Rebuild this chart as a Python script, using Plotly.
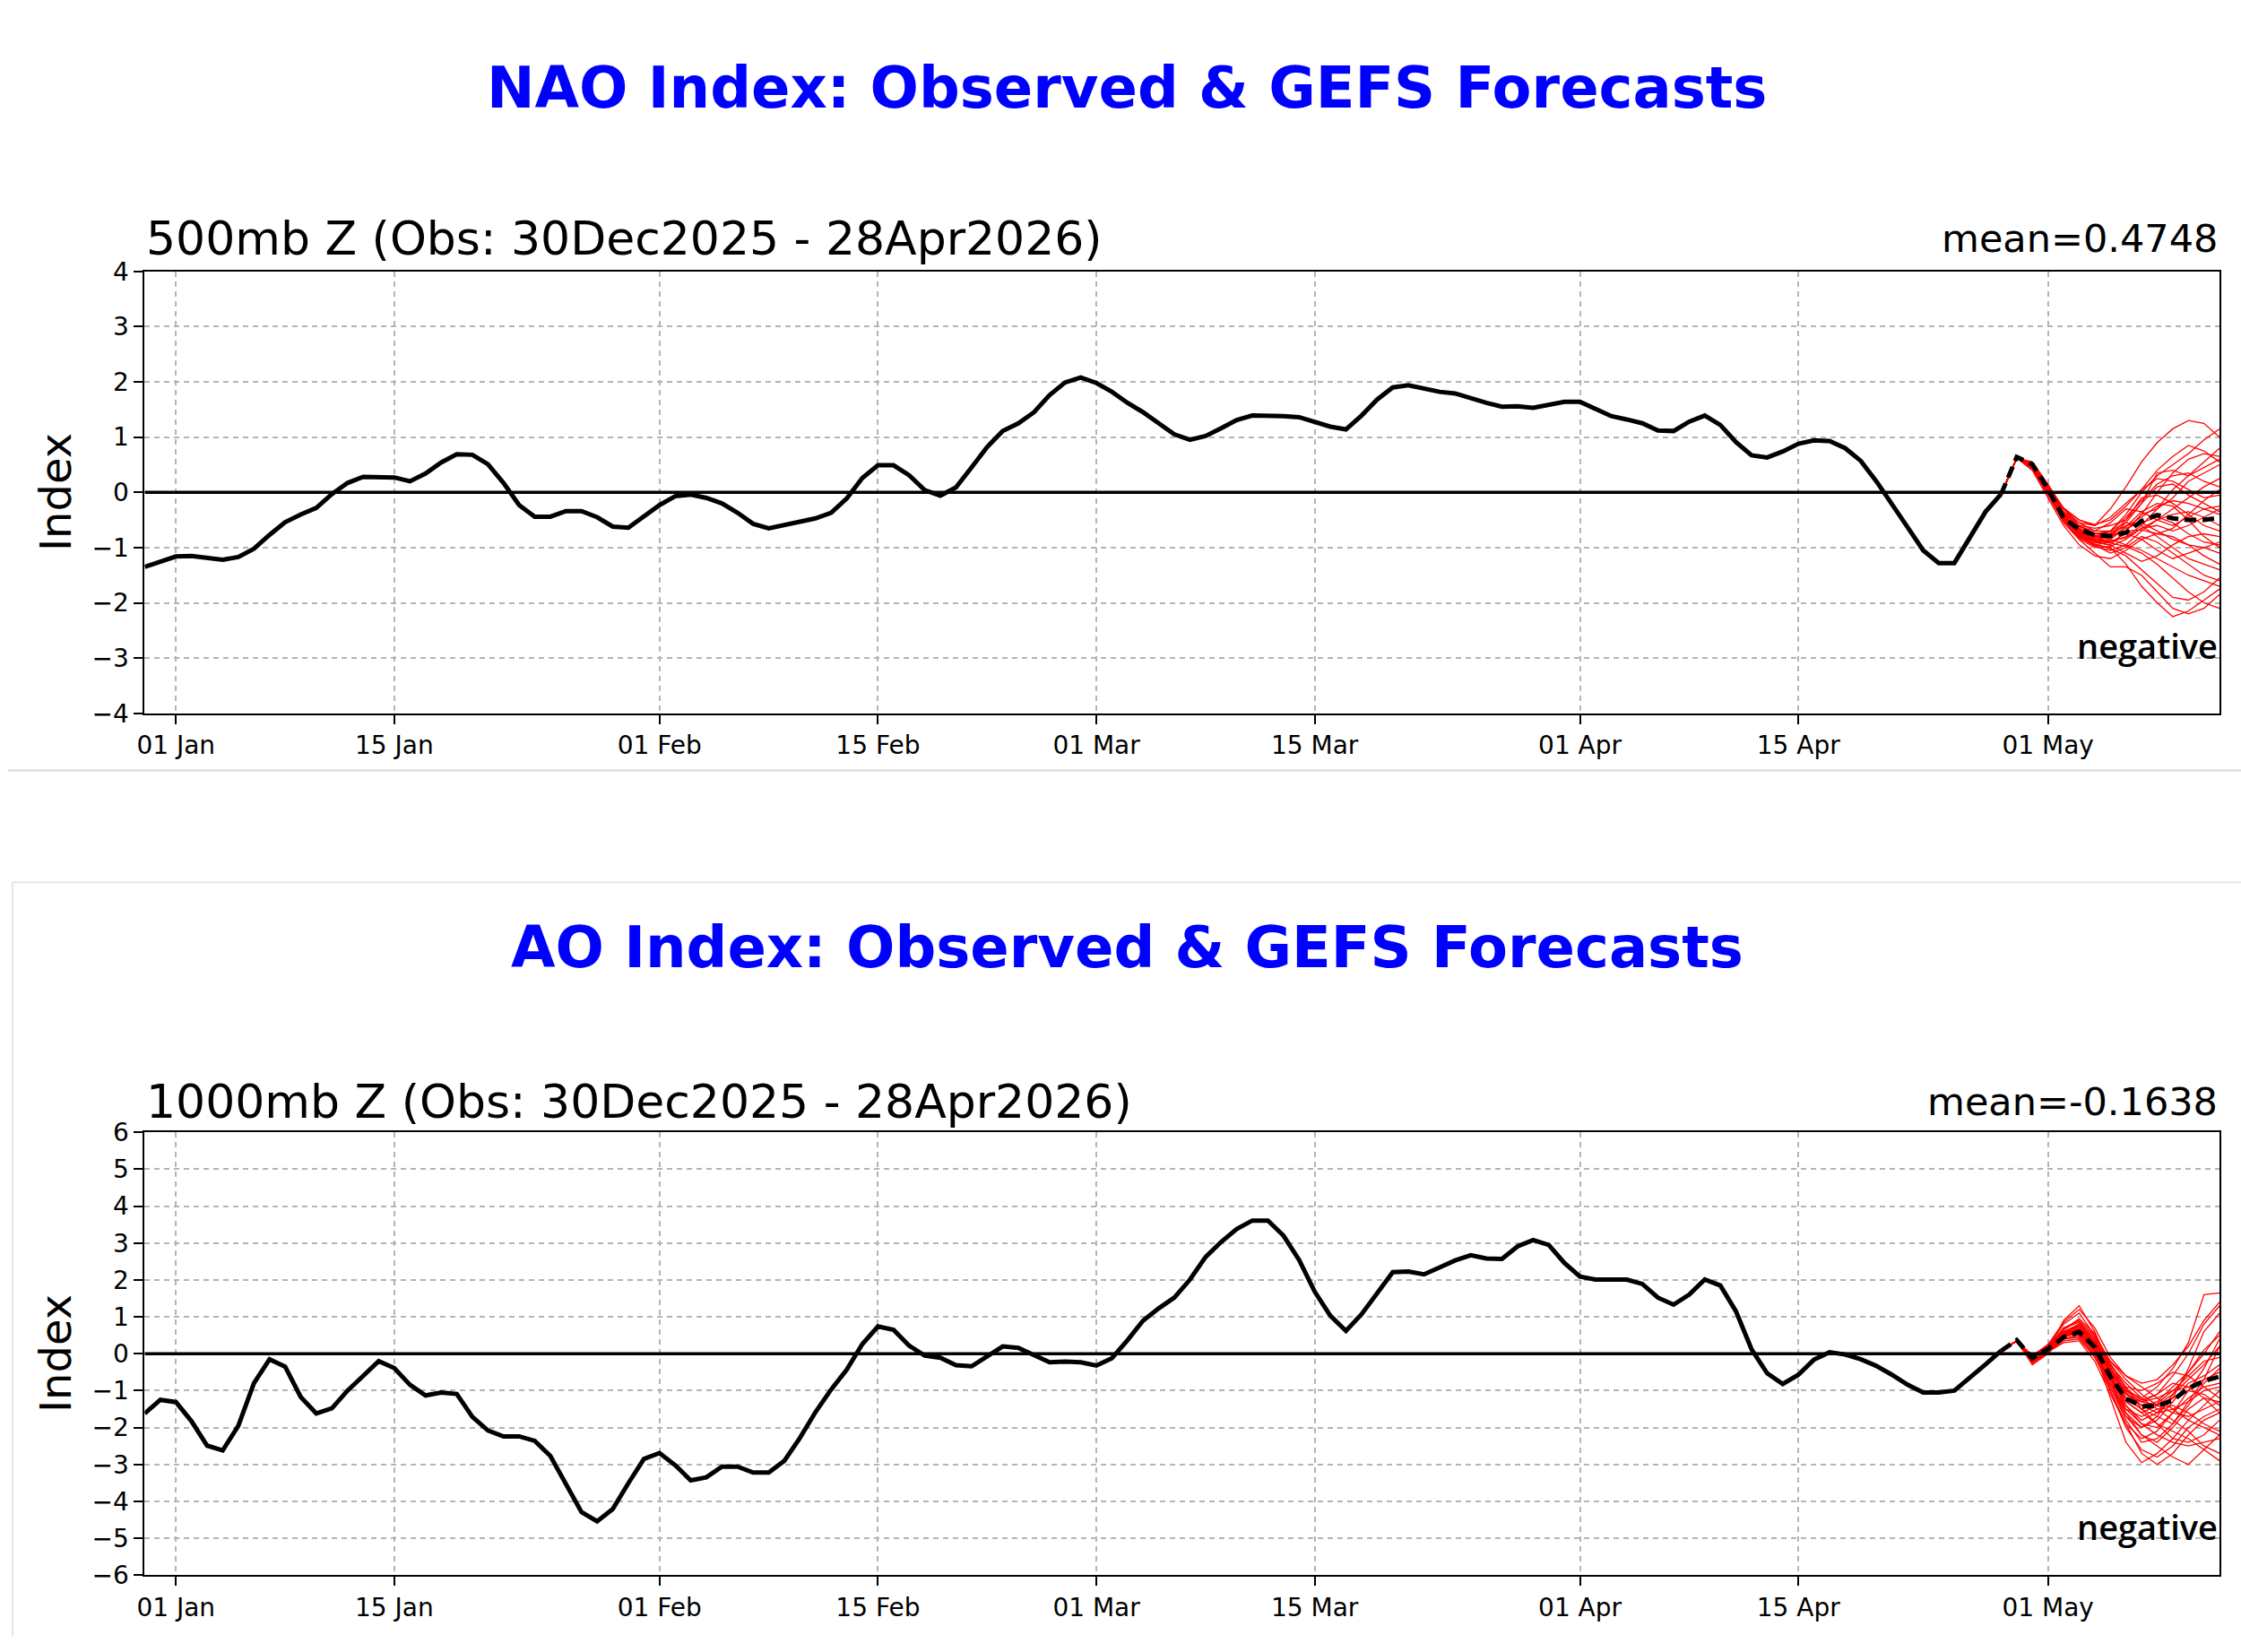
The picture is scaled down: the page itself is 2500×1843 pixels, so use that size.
"""NAO / AO index panels: observed daily index plus GEFS ensemble forecasts."""

import pandas as pd
import plotly.graph_objects as go

OBS_START = "2025-12-30"
FCST_START = "2026-04-28"
X_START = "2025-12-30"
X_END = "2026-05-12"

# --- observed indices (30 Dec 2025 -> 28 Apr 2026) -------------------------
nao_obs = [
    -1.35, -1.25,
    -1.16, -1.15, -1.19, -1.22, -1.17, -1.02, -0.77, -0.54, -0.40, -0.28,
    -0.03, 0.17, 0.28, 0.28, 0.27, 0.20, 0.34, 0.54, 0.69, 0.68,
    0.51, 0.17, -0.23, -0.44, -0.44, -0.34, -0.34, -0.45, -0.62, -0.64, -0.43,
    -0.23, -0.07, -0.04, -0.10, -0.20, -0.37, -0.57, -0.65, -0.60, -0.53,
    -0.47, -0.37, -0.11, 0.26, 0.49, 0.49, 0.31, 0.04, -0.06, 0.09,
    0.45, 0.82, 1.11, 1.25, 1.45, 1.76, 1.99, 2.08,
    1.98, 1.82, 1.62, 1.45, 1.25, 1.05, 0.95, 1.02, 1.16, 1.31,
    1.39, 1.39, 1.38, 1.36, 1.28, 1.19, 1.14, 1.39, 1.68, 1.90,
    1.94, 1.88, 1.82, 1.79, 1.70, 1.62, 1.55, 1.56, 1.53, 1.59, 1.64,
    1.64, 1.51, 1.38, 1.32, 1.25, 1.12, 1.11, 1.28, 1.39, 1.22,
    0.91, 0.67, 0.63, 0.74, 0.88, 0.94, 0.93, 0.80, 0.57, 0.20,
    -0.20, -0.63, -1.05, -1.28, -1.28, -0.82, -0.35, -0.03,
]

ao_obs = [
    -1.62, -1.25,
    -1.31, -1.83, -2.49, -2.62, -1.95, -0.80, -0.15, -0.35, -1.17, -1.62,
    -1.48, -1.00, -0.60, -0.20, -0.39, -0.84, -1.13, -1.05, -1.09, -1.71,
    -2.08, -2.24, -2.24, -2.36, -2.77, -3.51, -4.29, -4.54, -4.21, -3.51, -2.85,
    -2.69, -3.02, -3.43, -3.35, -3.06, -3.06, -3.22, -3.22, -2.90, -2.28,
    -1.58, -0.97, -0.43, 0.26, 0.74, 0.65, 0.22, -0.05, -0.11, -0.31,
    -0.34, -0.07, 0.20, 0.16, -0.02, -0.23, -0.21, -0.23,
    -0.32, -0.12, 0.37, 0.90, 1.23, 1.52, 2.01, 2.62, 3.03, 3.38,
    3.61, 3.61, 3.20, 2.54, 1.68, 1.03, 0.62, 1.07, 1.64, 2.21,
    2.23, 2.15, 2.34, 2.53, 2.67, 2.58, 2.57, 2.91, 3.08, 2.95, 2.46,
    2.09, 2.01, 2.01, 2.01, 1.89, 1.52, 1.33, 1.60, 2.01, 1.85,
    1.15, 0.12, -0.53, -0.82, -0.57, -0.16, 0.04, -0.02, -0.15, -0.33,
    -0.57, -0.84, -1.05, -1.05, -1.00, -0.66, -0.29, 0.08,
]

# --- GEFS forecasts (28 Apr -> 12 May) ---------------------------------------
nao_mean = [-0.03, 0.64, 0.51, 0.06, -0.46, -0.67, -0.77, -0.79, -0.73, -0.52,
            -0.41, -0.47, -0.50, -0.50, -0.46]

nao_members = [
    [-0.03, 0.62, 0.45, 0.05, -0.35, -0.55, -0.60, -0.30, 0.10, 0.55, 0.90, 1.15, 1.30, 1.25, 1.00],
    [-0.03, 0.62, 0.50, 0.10, -0.30, -0.60, -0.75, -0.70, -0.40, 0.00, 0.30, 0.50, 0.70, 0.95, 1.15],
    [-0.03, 0.62, 0.48, 0.00, -0.50, -0.80, -0.95, -1.00, -1.30, -1.70, -2.00, -2.25, -2.15, -1.95, -1.75],
    [-0.03, 0.62, 0.42, -0.05, -0.55, -0.85, -1.10, -1.35, -1.35, -1.50, -1.80, -2.10, -2.20, -2.10, -1.85],
    [-0.03, 0.62, 0.50, 0.08, -0.40, -0.70, -0.85, -0.80, -0.55, -0.20, 0.35, 0.40, 0.30, 0.45, 0.60],
    [-0.03, 0.62, 0.45, 0.00, -0.45, -0.75, -0.90, -0.95, -0.70, -0.40, -0.30, -0.10, 0.20, 0.35, 0.50],
    [-0.03, 0.62, 0.55, 0.15, -0.30, -0.50, -0.60, -0.45, -0.20, 0.05, 0.25, 0.20, 0.05, -0.10, -0.05],
    [-0.03, 0.62, 0.48, 0.02, -0.50, -0.78, -0.95, -1.10, -1.00, -0.80, -0.90, -1.10, -1.30, -1.50, -1.60],
    [-0.03, 0.62, 0.47, 0.05, -0.42, -0.68, -0.80, -0.75, -0.60, -0.55, -0.70, -0.85, -0.95, -1.00, -1.10],
    [-0.03, 0.62, 0.52, 0.10, -0.35, -0.62, -0.70, -0.55, -0.30, -0.35, -0.50, -0.60, -0.45, -0.30, -0.25],
    [-0.03, 0.62, 0.46, 0.00, -0.50, -0.82, -0.95, -0.90, -0.80, -0.60, -0.30, 0.05, 0.30, 0.55, 0.80],
    [-0.03, 0.62, 0.50, 0.05, -0.40, -0.65, -0.78, -0.85, -0.95, -1.05, -1.20, -1.35, -1.50, -1.60, -1.70],
    [-0.03, 0.62, 0.44, -0.02, -0.48, -0.78, -0.90, -0.85, -0.65, -0.55, -0.45, -0.55, -0.75, -0.90, -0.95],
    [-0.03, 0.62, 0.50, 0.07, -0.38, -0.60, -0.65, -0.60, -0.50, -0.20, 0.10, 0.15, -0.05, -0.20, -0.35],
    [-0.03, 0.62, 0.48, 0.03, -0.45, -0.70, -0.82, -0.78, -0.50, -0.10, -0.05, -0.20, -0.40, -0.60, -0.70],
    [-0.03, 0.62, 0.45, 0.00, -0.50, -0.80, -0.98, -1.05, -0.95, -0.70, -0.50, -0.30, -0.10, 0.10, 0.25],
    [-0.03, 0.62, 0.52, 0.12, -0.30, -0.55, -0.70, -0.70, -0.55, -0.60, -0.80, -1.00, -1.20, -1.30, -1.40],
    [-0.03, 0.62, 0.47, 0.02, -0.45, -0.72, -0.85, -0.88, -0.82, -0.65, -0.50, -0.40, -0.35, -0.45, -0.60],
    [-0.03, 0.62, 0.50, 0.06, -0.42, -0.70, -0.80, -0.70, -0.45, -0.15, 0.15, 0.30, 0.35, 0.20, 0.10],
    [-0.03, 0.62, 0.46, 0.01, -0.48, -0.75, -0.88, -0.90, -0.75, -0.85, -1.05, -1.20, -1.10, -1.00, -0.90],
    [-0.03, 0.62, 0.40, -0.10, -0.60, -0.95, -1.15, -1.20, -1.05, -0.85, -0.75, -0.80, -0.95, -1.15, -1.30],
    [-0.03, 0.62, 0.53, 0.12, -0.28, -0.50, -0.58, -0.50, -0.25, 0.05, 0.40, 0.65, 0.85, 0.75, 0.55],
    [-0.03, 0.62, 0.47, 0.04, -0.44, -0.74, -0.88, -0.92, -0.98, -1.10, -1.30, -1.55, -1.80, -2.00, -2.10],
    [-0.03, 0.62, 0.49, 0.06, -0.40, -0.66, -0.76, -0.72, -0.62, -0.45, -0.25, -0.15, -0.20, -0.30, -0.40],
    [-0.03, 0.62, 0.44, -0.03, -0.52, -0.84, -1.00, -0.98, -0.85, -0.65, -0.60, -0.70, -0.60, -0.45, -0.30],
    [-0.03, 0.62, 0.51, 0.09, -0.36, -0.62, -0.74, -0.78, -0.70, -0.40, 0.00, 0.35, 0.60, 0.70, 0.65],
    [-0.03, 0.62, 0.46, 0.02, -0.47, -0.76, -0.90, -0.96, -1.10, -1.25, -1.15, -0.95, -0.80, -0.75, -0.80],
    [-0.03, 0.62, 0.50, 0.06, -0.41, -0.69, -0.82, -0.80, -0.70, -0.68, -0.75, -0.65, -0.40, -0.15, 0.05],
    [-0.03, 0.62, 0.48, 0.03, -0.46, -0.73, -0.86, -0.82, -0.62, -0.35, -0.20, -0.25, -0.50, -0.80, -1.00],
    [-0.03, 0.62, 0.45, 0.01, -0.49, -0.79, -0.93, -1.02, -1.15, -1.40, -1.65, -1.90, -1.95, -1.80, -1.55],
]

ao_mean = [0.08, 0.37, -0.12, 0.13, 0.45, 0.59, 0.18, -0.62, -1.22, -1.42,
           -1.42, -1.26, -0.94, -0.74, -0.62]

ao_members = [
    [0.08, 0.35, -0.15, 0.10, 0.90, 1.30, 0.60, -0.40, -1.00, -1.20, -0.90, -0.40, 0.30, 1.60, 1.65],
    [0.08, 0.35, -0.20, 0.15, 0.70, 0.90, 0.20, -0.80, -1.60, -2.20, -2.50, -2.80, -3.00, -2.60, -2.20],
    [0.08, 0.35, -0.10, 0.20, 0.50, 0.60, 0.10, -1.20, -2.40, -2.95, -2.70, -2.30, -1.80, -1.40, -1.00],
    [0.08, 0.35, -0.25, 0.05, 0.40, 0.50, 0.00, -0.70, -1.20, -1.30, -1.10, -0.60, 0.00, 0.80, 1.30],
    [0.08, 0.35, -0.15, 0.15, 0.60, 0.80, 0.40, -0.30, -0.90, -1.50, -1.90, -2.10, -2.30, -2.60, -2.90],
    [0.08, 0.35, -0.10, 0.10, 0.45, 0.55, 0.25, -0.50, -1.30, -1.60, -1.40, -1.10, -0.70, -0.30, 0.20],
    [0.08, 0.35, -0.20, 0.20, 0.80, 1.10, 0.50, -0.60, -1.50, -1.90, -2.00, -1.60, -1.20, -0.90, -0.80],
    [0.08, 0.35, -0.15, 0.05, 0.35, 0.40, -0.10, -0.90, -1.70, -2.20, -2.40, -2.00, -1.50, -1.20, -1.30],
    [0.08, 0.35, -0.05, 0.25, 0.55, 0.70, 0.30, -0.40, -0.90, -1.00, -0.80, -0.50, -0.60, -0.90, -1.20],
    [0.08, 0.35, -0.30, 0.00, 0.50, 0.75, 0.35, -0.55, -1.40, -1.80, -1.60, -1.20, -0.40, 0.60, 1.10],
    [0.08, 0.35, -0.10, 0.15, 0.60, 0.65, 0.20, -0.20, -0.60, -0.90, -1.20, -1.50, -1.80, -2.00, -2.20],
    [0.08, 0.35, -0.20, 0.10, 0.50, 0.60, 0.10, -1.00, -2.00, -2.60, -2.80, -2.50, -2.00, -1.70, -1.50],
    [0.08, 0.35, -0.15, 0.20, 0.70, 0.85, 0.45, -0.35, -1.10, -1.40, -1.30, -0.90, -0.50, 0.10, 0.50],
    [0.08, 0.35, -0.10, 0.10, 0.40, 0.50, 0.00, -0.80, -1.50, -1.70, -1.50, -1.40, -1.60, -1.90, -2.10],
    [0.08, 0.35, -0.25, 0.05, 0.55, 0.80, 0.30, -0.60, -1.20, -1.50, -1.70, -1.90, -1.40, -0.80, -0.40],
    [0.08, 0.35, -0.15, 0.15, 0.45, 0.60, 0.15, -0.70, -1.60, -2.00, -1.80, -1.30, -0.80, -0.60, -0.30],
    [0.08, 0.35, -0.10, 0.20, 0.65, 0.90, 0.50, -0.20, -0.70, -1.10, -1.40, -1.60, -1.70, -1.50, -1.30],
    [0.08, 0.35, -0.20, 0.10, 0.50, 0.55, 0.05, -0.90, -1.80, -2.40, -2.30, -1.90, -1.30, -0.70, 0.20],
    [0.08, 0.35, -0.15, 0.10, 0.60, 0.75, 0.30, -0.45, -1.00, -1.30, -1.20, -1.00, -0.90, -0.70, -0.50],
    [0.08, 0.35, -0.10, 0.15, 0.50, 0.70, 0.25, -0.60, -1.30, -1.60, -1.90, -2.30, -2.40, -2.20, -1.80],
    [0.08, 0.35, -0.20, 0.05, 0.30, 0.35, -0.20, -1.10, -1.90, -2.30, -2.10, -1.60, -1.00, -0.40, 0.40],
    [0.08, 0.35, -0.10, 0.25, 0.85, 1.20, 0.70, -0.10, -0.60, -0.80, -0.70, -0.30, 0.20, 0.90, 1.40],
    [0.08, 0.35, -0.15, 0.10, 0.55, 0.65, 0.20, -0.70, -1.40, -1.90, -2.20, -2.40, -2.50, -2.40, -2.30],
    [0.08, 0.35, -0.25, 0.00, 0.45, 0.70, 0.30, -0.50, -1.10, -1.30, -1.40, -1.20, -1.00, -1.10, -1.40],
    [0.08, 0.35, -0.05, 0.20, 0.60, 0.75, 0.35, -0.30, -0.80, -1.20, -1.50, -1.80, -2.10, -2.50, -2.70],
    [0.08, 0.35, -0.15, 0.15, 0.50, 0.55, 0.10, -0.80, -1.70, -2.00, -1.70, -1.10, -0.50, 0.00, 0.60],
    [0.08, 0.35, -0.20, 0.10, 0.65, 0.95, 0.55, -0.25, -0.95, -1.25, -1.10, -0.80, -0.90, -1.20, -1.60],
    [0.08, 0.35, -0.10, 0.20, 0.40, 0.45, -0.05, -1.00, -1.90, -2.70, -3.00, -2.70, -2.20, -1.80, -1.60],
    [0.08, 0.35, -0.15, 0.05, 0.50, 0.70, 0.35, -0.40, -1.20, -1.50, -1.35, -1.00, -0.60, -0.20, -0.10],
    [0.08, 0.35, -0.20, 0.15, 0.55, 0.80, 0.40, -0.45, -1.05, -1.40, -1.60, -1.50, -1.30, -1.00, -0.90],
]

# --- axis ticks ------------------------------------------------------------
tick_dates = ["2026-01-01", "2026-01-15", "2026-02-01", "2026-02-15", "2026-03-01",
              "2026-03-15", "2026-04-01", "2026-04-15", "2026-05-01"]
tick_text = ["01 Jan", "15 Jan", "01 Feb", "15 Feb", "01 Mar",
             "15 Mar", "01 Apr", "15 Apr", "01 May"]
nao_yticks = [-4, -3, -2, -1, 0, 1, 2, 3, 4]
ao_yticks = [-6, -5, -4, -3, -2, -1, 0, 1, 2, 3, 4, 5, 6]

titles = ["NAO Index: Observed & GEFS Forecasts", "AO Index: Observed & GEFS Forecasts"]
subtitles = ["500mb Z (Obs: 30Dec2025 - 28Apr2026)", "1000mb Z (Obs: 30Dec2025 - 28Apr2026)"]
mean_labels = ["mean=0.4748", "mean=-0.1638"]

W, H = 2500, 1843
FONT = "DejaVu Sans, sans-serif"


def py(px_from_top: float) -> float:
    return 1 - px_from_top / H


X_DOMAIN = [153 / W, 2476 / W]
PANELS = [
    # (obs, mean, members, yticks, plot top px, plot bottom px, title px, subtitle px, neg px)
    (nao_obs, nao_mean, nao_members, nao_yticks, 292, 794, 83, 255, 717),
    (ao_obs, ao_mean, ao_members, ao_yticks, 1270, 1773, 1060, 1235, 1718),
]

fig = go.Figure()

for i, (obs, mean, members, yticks, top, bot, t_y, s_y, n_y) in enumerate(PANELS):
    xa = "x" if i == 0 else "x2"
    ya = "y" if i == 0 else "y2"
    obs_dates = pd.date_range(OBS_START, periods=len(obs), freq="D")
    fc_dates = pd.date_range(FCST_START, periods=len(mean), freq="D")

    fig.add_trace(go.Scatter(x=obs_dates, y=obs, mode="lines", xaxis=xa, yaxis=ya,
                             line=dict(color="black", width=5), showlegend=False))
    for m in members:
        fig.add_trace(go.Scatter(x=fc_dates, y=m, mode="lines", xaxis=xa, yaxis=ya,
                                 line=dict(color="#ff0000", width=1.3), showlegend=False))
    fig.add_trace(go.Scatter(x=fc_dates, y=mean, mode="lines", xaxis=xa, yaxis=ya,
                             line=dict(color="black", width=5, dash="13px,7px"),
                             showlegend=False))

    # zero line
    fig.add_shape(type="line", xref=xa, yref=ya, x0=X_START, x1=X_END, y0=0, y1=0,
                  line=dict(color="black", width=3.5))

    dom = [py(bot), py(top)]
    axis_common = dict(showline=True, linecolor="black", linewidth=2, mirror=True,
                       ticks="outside", ticklen=10, tickwidth=2, tickcolor="black",
                       showgrid=True, gridcolor="#b4b4b4", gridwidth=1.6, griddash="6px,5px",
                       zeroline=False, tickfont=dict(family=FONT, size=28, color="black"))
    fig.update_layout({
        ("xaxis" if i == 0 else "xaxis2"): dict(
            domain=X_DOMAIN, anchor=ya, range=[X_START, X_END],
            tickvals=tick_dates, ticktext=tick_text, **axis_common),
        ("yaxis" if i == 0 else "yaxis2"): dict(
            domain=dom, anchor=xa, range=[yticks[0], yticks[-1]],
            tickvals=yticks, **axis_common),
    })

    fig.add_annotation(text=f"<b>{titles[i]}</b>", xref="paper", yref="paper",
                       x=0.5012, y=py(t_y), xanchor="center", yanchor="middle",
                       showarrow=False, font=dict(family=FONT, size=64, color="#0000ff"))
    fig.add_annotation(text=subtitles[i], xref="paper", yref="paper",
                       x=X_DOMAIN[0], y=py(s_y), xanchor="left", yanchor="middle",
                       showarrow=False, font=dict(family=FONT, size=52, color="black"))
    fig.add_annotation(text=mean_labels[i], xref="paper", yref="paper",
                       x=X_DOMAIN[1], y=py(s_y), xanchor="right", yanchor="middle",
                       showarrow=False, font=dict(family=FONT, size=43, color="black"))
    fig.add_annotation(text="Index", xref="paper", yref="paper", textangle=-90,
                       x=53 / W, y=py((top + bot) / 2), xanchor="center", yanchor="middle",
                       showarrow=False, font=dict(family=FONT, size=48, color="black"))
    fig.add_annotation(text="negative", xref="paper", yref="paper",
                       x=2476 / W, y=py(n_y), xanchor="right", yanchor="middle",
                       showarrow=False,
                       font=dict(family="Open Sans, sans-serif", size=38, color="black", weight=600))

# light panel separators from the stacked source images
fig.add_shape(type="line", xref="paper", yref="paper", x0=0, x1=1, y0=py(859), y1=py(859),
              line=dict(color="#d6d6d6", width=2))
fig.add_shape(type="line", xref="paper", yref="paper", x0=0.002, x1=1, y0=py(986), y1=py(986),
              line=dict(color="#e6e6e6", width=2))
fig.add_shape(type="line", xref="paper", yref="paper", x0=0.002, x1=0.002, y0=0, y1=py(986),
              line=dict(color="#e6e6e6", width=2))

fig.update_layout(
    width=W, height=H, autosize=False,
    margin=dict(l=0, r=0, t=0, b=0),
    paper_bgcolor="white", plot_bgcolor="white",
    showlegend=False,
)

page_fix = (
    "document.documentElement.style.margin='0';"
    "document.documentElement.style.overflow='hidden';"
    "document.body.style.margin='0';"
    "document.body.style.padding='0';"
    "document.body.style.overflow='hidden';"
)
fig.write_html("out.html", config={"displayModeBar": False}, post_script=page_fix)
